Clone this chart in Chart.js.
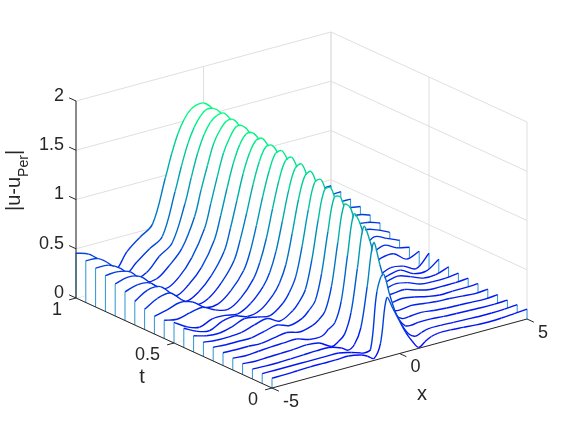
<!DOCTYPE html>
<html>
<head>
<meta charset="utf-8">
<script src="https://cdn.jsdelivr.net/npm/chart.js@4"></script>
<style>
    html, body { margin: 0; padding: 0; background: #fff; }
    canvas { display: block; }
</style>
</head>
<body>
<canvas id="waterfallChart" width="581" height="436"></canvas>
<script>
const xValues = [-5, -4.5, -4, -3.5, -3, -2.5, -2, -1.5, -1.25, -1, -0.75, -0.5, -0.25, 0, 0.25, 0.5, 0.75, 1, 1.25, 1.5, 2, 2.5, 3, 3.5, 4, 4.5, 5];
const tValues = [0, 0.05, 0.1, 0.15, 0.2, 0.25, 0.3, 0.35, 0.4, 0.45, 0.5, 0.55, 0.6, 0.65, 0.7, 0.75, 0.8, 0.85, 0.9, 0.95, 1];

const xTicks = [-5, 0, 5];
const tTicks = [0, 0.5, 1];
const zTicks = [0, 0.5, 1, 1.5, 2];
const xTickLabels = ['-5', '0', '5'];
const tTickLabels = ['0', '0.5', '1'];
const zTickLabels = ['0', '0.5', '1', '1.5', '2'];

// |u-u_Per|, one row per t
const curveT000 = [.10,.10,.105,.11,.11,.11,.115,.09,.06,.02,.15,.60,.47,.33,.195,.09,.01,.05,.085,.10,.10,.09,.08,.075,.08,.09,.10];
const curveT005 = [.10,.10,.10,.10,.10,.10,.10,.07,.05,.03,.05,.62,.78,.55,.34,.2,.1,.06,.08,.1,.1,.095,.09,.085,.085,.09,.10];
const curveT010 = [.10,.095,.095,.10,.105,.11,.11,.07,.03,.07,.22,.62,1.05,.81,.56,.35,.2,.12,.11,.12,.12,.11,.105,.1,.095,.095,.10];
const curveT015 = [.11,.10,.105,.11,.115,.125,.11,.04,.07,.13,.33,.76,1.17,1.0,.73,.47,.28,.18,.13,.13,.14,.125,.115,.11,.105,.1,.11];
const curveT020 = [.12,.11,.12,.13,.135,.14,.10,.10,.15,.2,.4,.85,1.25,1.13,.86,.58,.36,.24,.17,.15,.165,.15,.135,.13,.12,.11,.12];
const curveT025 = [.13,.125,.125,.12,.14,.16,.13,.16,.2,.27,.5,.93,1.3,1.25,.98,.7,.44,.3,.2,.17,.19,.17,.14,.12,.125,.125,.13];
const curveT030 = [.14,.13,.13,.13,.16,.19,.15,.19,.25,.33,.59,1.0,1.33,1.31,1.06,.79,.52,.35,.25,.2,.19,.2,.16,.13,.13,.13,.14];
const curveT035 = [.145,.13,.13,.14,.18,.21,.15,.22,.29,.40,.68,1.07,1.36,1.36,1.14,.87,.6,.41,.29,.22,.18,.21,.19,.14,.13,.13,.145];
const curveT040 = [.165,.13,.12,.15,.20,.18,.16,.25,.34,.48,.77,1.13,1.39,1.40,1.2,.94,.67,.46,.32,.25,.17,.18,.21,.17,.12,.12,.165];
const curveT045 = [.195,.13,.10,.16,.18,.14,.17,.29,.39,.56,.86,1.19,1.41,1.435,1.25,1.0,.74,.52,.36,.27,.17,.13,.17,.19,.12,.11,.195];
const curveT050 = [.21,.13,.09,.14,.14,.12,.19,.33,.45,.65,.94,1.24,1.44,1.467,1.3,1.06,.8,.58,.41,.29,.18,.11,.12,.17,.15,.09,.21];
const curveT055 = [.185,.16,.19,.21,.15,.12,.20,.36,.51,.73,1.02,1.29,1.47,1.49,1.34,1.12,.88,.65,.46,.32,.2,.12,.15,.22,.23,.14,.185];
const curveT060 = [.18,.21,.25,.22,.13,.13,.23,.40,.57,.82,1.1,1.34,1.5,1.51,1.38,1.18,.95,.71,.5,.36,.22,.13,.14,.21,.27,.21,.18];
const curveT065 = [.205,.28,.30,.19,.11,.14,.26,.45,.65,.9,1.17,1.39,1.52,1.52,1.41,1.22,1.0,.77,.55,.39,.25,.14,.12,.2,.31,.26,.205];
const curveT070 = [.24,.32,.32,.20,.10,.16,.29,.50,.72,.98,1.24,1.43,1.54,1.545,1.44,1.27,1.05,.82,.6,.42,.28,.16,.11,.22,.33,.3,.24];
const curveT075 = [.29,.33,.31,.19,.11,.19,.33,.57,.8,1.06,1.3,1.47,1.56,1.556,1.47,1.31,1.1,.87,.65,.46,.32,.19,.12,.2,.33,.33,.29];
const curveT080 = [.325,.36,.33,.21,.14,.22,.38,.64,.88,1.13,1.36,1.5,1.59,1.58,1.5,1.35,1.15,.92,.7,.5,.37,.22,.14,.22,.33,.36,.325];
const curveT085 = [.365,.37,.33,.20,.19,.29,.43,.72,.97,1.2,1.41,1.53,1.6,1.6,1.52,1.38,1.2,.97,.74,.54,.41,.28,.18,.21,.33,.38,.365];
const curveT090 = [.395,.39,.32,.18,.21,.34,.44,.80,1.05,1.28,1.45,1.56,1.61,1.62,1.55,1.42,1.24,1.02,.78,.58,.42,.33,.2,.19,.32,.39,.395];
const curveT095 = [.425,.41,.31,.17,.27,.37,.46,.88,1.12,1.33,1.48,1.58,1.63,1.62,1.57,1.46,1.28,1.06,.83,.61,.44,.36,.25,.18,.31,.41,.425];
const curveT100 = [.455,.41,.30,.165,.33,.44,.54,.97,1.2,1.39,1.52,1.6,1.63,1.63,1.58,1.48,1.32,1.1,.88,.65,.48,.42,.29,.18,.30,.42,.44];

const curves = [curveT000, curveT005, curveT010, curveT015, curveT020, curveT025, curveT030,
    curveT035, curveT040, curveT045, curveT050, curveT055, curveT060, curveT065, curveT070,
    curveT075, curveT080, curveT085, curveT090, curveT095, curveT100];

const zColorMax = 1.65;
const gridColor = '#dfdfdf';
const axisColor = '#262626';

// fixed 3d view, gives the position in the page's scale units
function project(x, t, z) {
    return {
        x: 272 + 25.5 * (x + 5) - 196 * t,
        y: 388 - 6.9 * (x + 5) - 90 * t - 98.5 * z
    };
}

// winter colormap
function winter(z) {
    const v = Math.min(z / zColorMax, 1);
    return 'rgb(0,' + Math.round(255 * v) + ',' + Math.round(255 * (1 - v / 2)) + ')';
}

function segmentOf(points, color, width) {
    return { data: points, borderColor: color, borderWidth: width, pointRadius: 0, fill: false };
}

const datasets = [];

// box axes go on top
datasets.push(segmentOf([project(-5, 1, 0), project(-5, 1, 2)], axisColor, 1));
datasets.push(segmentOf([project(-5, 1, 0), project(-5, 0, 0), project(5, 0, 0)], axisColor, 1));
zTicks.forEach(function(z) {
    datasets.push(segmentOf([project(-5, 1, z), project(-5, 1.035, z)], axisColor, 1));
});
tTicks.forEach(function(t) {
    datasets.push(segmentOf([project(-5, t, 0), project(-5.27, t, 0)], axisColor, 1));
});
xTicks.forEach(function(x) {
    datasets.push(segmentOf([project(x, 0, 0), project(x, -0.035, 0)], axisColor, 1));
});

// the first dataset is painted last, so front curves come first
tValues.forEach(function(t, i) {
    const row = curves[i];
    const line = xValues.map(function(x, j) { return project(x, t, row[j]); });
    datasets.push({
        data: line,
        borderWidth: 1.4,
        borderColor: winter(row[0]),
        tension: 0.35,
        pointRadius: 0,
        fill: false,
        segment: {
            borderColor: function(ctx) {
                return winter((row[ctx.p0DataIndex] + row[ctx.p1DataIndex]) / 2 + 0.04);
            }
        }
    });
    datasets.push(segmentOf([project(-5, t, 0), project(-5, t, row[0])], '#2b95d4', 1));
    datasets.push(segmentOf([project(5, t, 0), project(5, t, row[row.length - 1])], '#2b95d4', 1));
    datasets.push({
        data: [project(-5, t, 0)].concat(line, [project(5, t, 0)]),
        borderWidth: 0,
        pointRadius: 0,
        backgroundColor: '#ffffff',
        fill: 'shape'
    });
});

// walls and floor
zTicks.forEach(function(z) {
    datasets.push(segmentOf([project(-5, 1, z), project(5, 1, z), project(5, 0, z)], gridColor, 1));
});
xTicks.forEach(function(x) {
    datasets.push(segmentOf([project(x, 0, 0), project(x, 1, 0), project(x, 1, 2)], gridColor, 1));
});
tTicks.forEach(function(t) {
    datasets.push(segmentOf([project(-5, t, 0), project(5, t, 0), project(5, t, 2)], gridColor, 1));
});

const labelsPlugin = {
    id: 'labelsPlugin',
    afterDraw: function(chart) {
        const ctx = chart.ctx;
        const sx = chart.scales.x;
        const sy = chart.scales.y;
        function put(text, p, dx, dy, align) {
            ctx.textAlign = align;
            ctx.fillText(text, sx.getPixelForValue(p.x) + dx, sy.getPixelForValue(p.y) + dy);
        }
        ctx.save();
        ctx.fillStyle = axisColor;
        ctx.textBaseline = 'middle';
        ctx.font = '18px "Liberation Sans"';
        zTicks.forEach(function(z, i) { put(zTickLabels[i], project(-5, 1, z), -12, -5, 'right'); });
        tTicks.forEach(function(t, i) { put(tTickLabels[i], project(-5, t, 0), -14, 12, 'right'); });
        xTicks.forEach(function(x, i) { put(xTickLabels[i], project(x, 0, 0), i === 0 ? 19 : 16, 14, 'center'); });
        ctx.font = '20px "Liberation Sans"';
        ctx.textAlign = 'center';
        ctx.fillText('t', 142, 377);
        ctx.fillText('x', 422, 394);
        // rotated z label with a subscript
        ctx.translate(20, 211);
        ctx.rotate(-Math.PI / 2);
        ctx.textAlign = 'left';
        ctx.textBaseline = 'alphabetic';
        ctx.fillText('|u-u', 0, 0);
        let w = ctx.measureText('|u-u').width;
        ctx.font = '14px "Liberation Sans"';
        ctx.fillText('Per', w, 8);
        w += ctx.measureText('Per').width;
        ctx.font = '20px "Liberation Sans"';
        ctx.fillText('|', w, 0);
        ctx.restore();
    }
};

new Chart(document.getElementById('waterfallChart').getContext('2d'), {
    type: 'line',
    data: { datasets: datasets },
    options: {
        responsive: false,
        animation: false,
        layout: { padding: 0 },
        plugins: {
            legend: { display: false },
            tooltip: { enabled: false },
            filler: { propagate: false }
        },
        scales: {
            x: { type: 'linear', display: false, min: 0, max: 581 },
            y: { type: 'linear', display: false, min: 0, max: 436, reverse: true }
        }
    },
    plugins: [labelsPlugin]
});
</script>
</body>
</html>
